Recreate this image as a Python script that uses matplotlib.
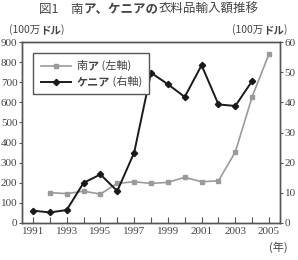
import matplotlib
matplotlib.use("Agg")
import matplotlib.pyplot as plt
from matplotlib.lines import Line2D
from matplotlib.offsetbox import (AnchoredOffsetbox, HPacker, VPacker,
                                  TextArea, DrawingArea)

plt.rcParams['font.family'] = ['Noto Sans CJK JP', 'DejaVu Sans']

# data
sa_years = [1992, 1993, 1994, 1995, 1996, 1997, 1998, 1999, 2000, 2001, 2002, 2003, 2004, 2005]
sa_values = [151, 146, 158, 144, 197, 205, 197, 202, 227, 205, 210, 353, 628, 841]   # 100万ドル, left axis
ke_years = [1991, 1992, 1993, 1994, 1995, 1996, 1997, 1998, 1999, 2000, 2001, 2002, 2003, 2004]
ke_values = [4.1, 3.5, 4.3, 13.3, 16.1, 10.6, 23.3, 49.8, 46.0, 41.8, 52.3, 39.3, 38.8, 47.1]  # right axis

left_ticks = [0, 100, 200, 300, 400, 500, 600, 700, 800, 900]
right_ticks = [0, 10, 20, 30, 40, 50, 60]
year_labels = [1991, 1993, 1995, 1997, 1999, 2001, 2003, 2005]

SA_COLOR = '#9a9a9a'
KE_COLOR = '#1a1a1a'
AX_COLOR = '#555555'
TXT_COLOR = '#444444'
SERIF = 'Liberation Serif'

fig = plt.figure(figsize=(2.98, 2.60), dpi=100)
ax = fig.add_axes([22 / 298, 37 / 260, 258 / 298, 181 / 260])
ax2 = ax.twinx()

ax.plot(sa_years, sa_values, color=SA_COLOR, lw=1.2, marker='s', ms=3,
        mec=SA_COLOR, mfc=SA_COLOR)
ax2.plot(ke_years, ke_values, color=KE_COLOR, lw=1.4, marker='D', ms=3.2,
         mec=KE_COLOR, mfc=KE_COLOR)

ax.set_xlim(1990.35, 2005.65)
ax.set_ylim(0, 900)
ax2.set_ylim(0, 60)
ax.set_yticks(left_ticks)
ax2.set_yticks(right_ticks)
ax.set_xticks(range(1991, 2006))
ax.set_xticklabels([str(y) if y in year_labels else '' for y in range(1991, 2006)])

for a in (ax, ax2):
    for s in a.spines.values():
        s.set_color(AX_COLOR)
        s.set_linewidth(1.0)
ax.tick_params(axis='x', direction='in', length=4, color=AX_COLOR, pad=3,
               labelsize=8, labelcolor=TXT_COLOR)
ax.tick_params(axis='y', direction='out', length=2.5, color=AX_COLOR, pad=0.8,
               labelsize=8, labelcolor=TXT_COLOR)
ax2.tick_params(axis='y', direction='out', length=2.5, color=AX_COLOR, pad=0.8,
                labelsize=8, labelcolor=TXT_COLOR)
for lab in ax.get_xticklabels() + ax.get_yticklabels() + ax2.get_yticklabels():
    lab.set_fontfamily(SERIF)


def rich(parts, size):
    boxes = []
    for txt, bold in parts:
        boxes.append(TextArea(txt, textprops=dict(
            fontsize=size, color=TXT_COLOR,
            fontweight='bold' if bold else 'normal')))
    return HPacker(children=boxes, align='baseline', pad=0, sep=0)


# title
title = rich([('図1　南', False), ('ア、ケニアの', True), ('衣料品輸入額推移', False)], 9)
fig.add_artist(AnchoredOffsetbox(loc='upper center', child=title, pad=0, borderpad=0,
                                 frameon=False, bbox_to_anchor=(0.5, 1 - 3 / 260),
                                 bbox_transform=fig.transFigure))

# unit labels
for x, loc in ((0.03, 'lower left'), (0.965, 'lower right')):
    unit = rich([('(100万', False), ('ドル', True), (')', False)], 7.5)
    fig.add_artist(AnchoredOffsetbox(loc=loc, child=unit, pad=0, borderpad=0,
                                     frameon=False, bbox_to_anchor=(x, 1 - 35 / 260),
                                     bbox_transform=fig.transFigure))

fig.text(278 / 298, 13 / 260, '(年)', fontsize=8, color=TXT_COLOR, ha='center', va='center')


# legend
def legend_row(color, marker, ms, lw, parts):
    da = DrawingArea(24, 8, 0, 0)
    da.add_artist(Line2D([1, 23], [4, 4], color=color, lw=lw))
    da.add_artist(Line2D([12], [4], color=color, marker=marker, ms=ms,
                         mec=color, mfc=color))
    return HPacker(children=[da, rich(parts, 8)], align='center', pad=0, sep=3)


rows = VPacker(children=[
    legend_row(SA_COLOR, 's', 3, 1.2, [('南', False), ('ア', True), (' (左軸)', False)]),
    legend_row(KE_COLOR, 'D', 3.2, 1.4, [('ケニア', True), (' (右軸)', False)]),
], align='left', pad=0, sep=2)
leg = AnchoredOffsetbox(loc='upper left', child=rows, pad=0.45, borderpad=0,
                        frameon=True, bbox_to_anchor=(33 / 298, 1 - 53 / 260),
                        bbox_transform=fig.transFigure)
leg.patch.set_edgecolor(AX_COLOR)
leg.patch.set_linewidth(1.0)
leg.patch.set_boxstyle('square', pad=0)
ax2.add_artist(leg)

fig.savefig('out.png', dpi=100)
